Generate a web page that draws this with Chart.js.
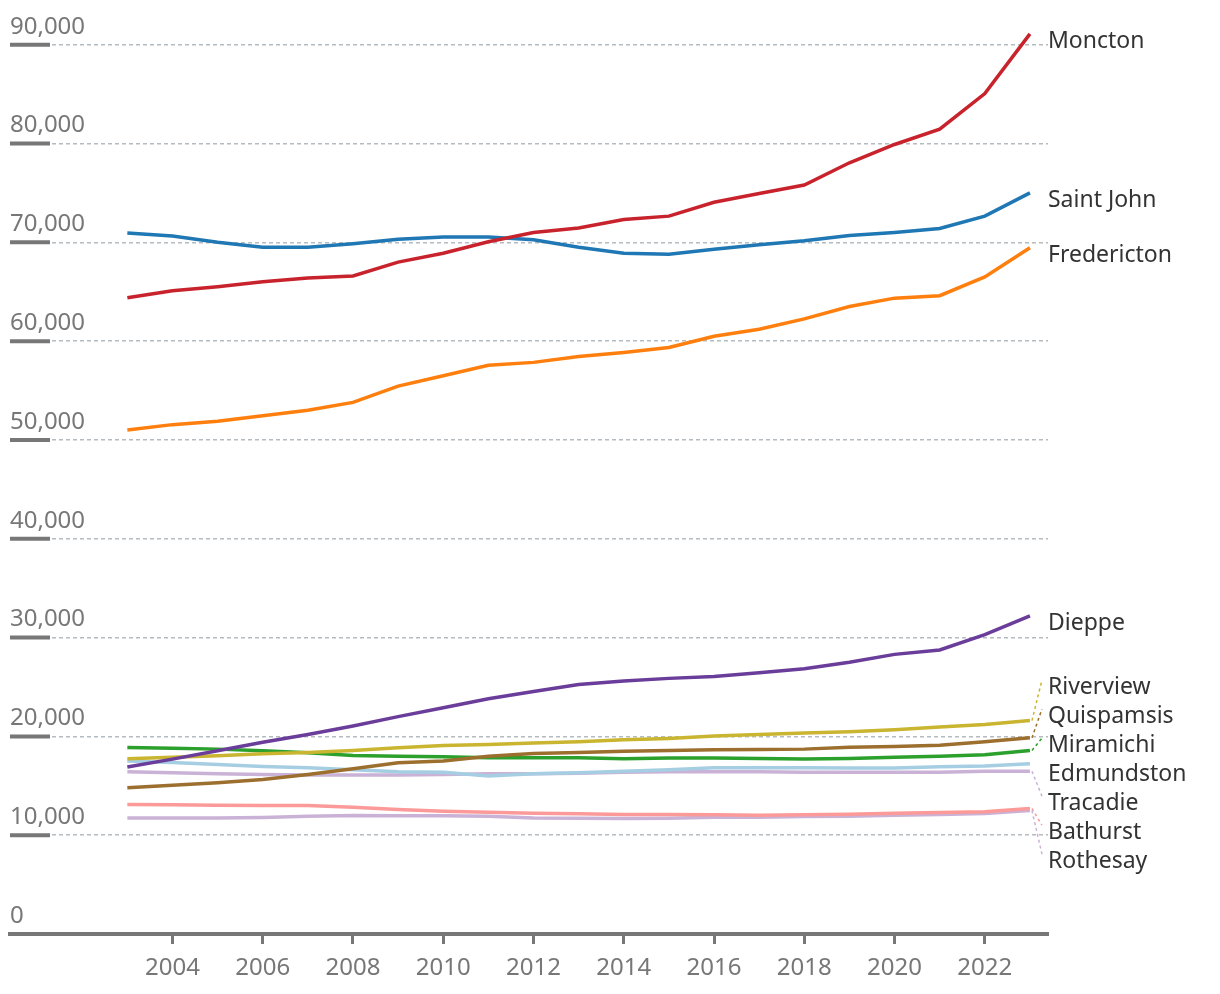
<!DOCTYPE html>
<html lang="en">
<head>
  <meta charset="UTF-8" />
  <title>New Brunswick population by city</title>
  <script src="https://cdn.jsdelivr.net/npm/chart.js"></script>
  <style>
    html, body { margin: 0; padding: 0; background: #fff; }
    #wrap { width: 1220px; height: 994px; }
  </style>
</head>
<body>
  <div id="wrap"><canvas id="chart" width="1220" height="994"></canvas></div>

  <script>
    // data
    const years = [2003, 2004, 2005, 2006, 2007, 2008, 2009, 2010, 2011, 2012, 2013,
      2014, 2015, 2016, 2017, 2018, 2019, 2020, 2021, 2022, 2023];

    const moncton = [64400, 65100, 65500, 66000, 66400, 66600, 68000, 68900, 70050, 71000, 71450,
      72300, 72650, 74050, 74950, 75800, 78050, 79900, 81450, 85050, 91100];
    const saintJohn = [70950, 70650, 70000, 69500, 69500, 69850, 70300, 70550, 70550, 70250, 69500,
      68900, 68800, 69300, 69750, 70150, 70700, 71000, 71400, 72650, 75000];
    const fredericton = [51000, 51550, 51900, 52450, 53000, 53800, 55450, 56500, 57550, 57850, 58450,
      58850, 59350, 60500, 61200, 62250, 63500, 64350, 64600, 66500, 69450];
    const dieppe = [16900, 17700, 18550, 19400, 20200, 21050, 22000, 22900, 23800, 24550, 25250,
      25600, 25870, 26050, 26450, 26850, 27500, 28300, 28750, 30300, 32200];
    const riverview = [17730, 17900, 18050, 18230, 18370, 18580, 18850, 19080, 19180, 19320, 19450,
      19650, 19790, 20030, 20200, 20330, 20460, 20670, 20940, 21210, 21600];
    const quispamsis = [14790, 15060, 15300, 15640, 16150, 16720, 17330, 17500, 18000, 18270, 18370,
      18500, 18580, 18640, 18680, 18710, 18910, 18980, 19110, 19450, 19850];
    const miramichi = [18880, 18810, 18710, 18540, 18340, 18070, 18000, 17930, 17830, 17830, 17830,
      17730, 17800, 17800, 17770, 17700, 17770, 17900, 18000, 18130, 18580];
    const edmundston = [17500, 17360, 17160, 16960, 16820, 16620, 16410, 16380, 15980, 16210, 16310,
      16480, 16620, 16820, 16820, 16820, 16800, 16800, 16920, 17000, 17220];
    const tracadie = [16410, 16310, 16210, 16150, 16080, 16080, 16080, 16150, 16210, 16210, 16280,
      16380, 16410, 16410, 16410, 16380, 16380, 16380, 16380, 16480, 16480];
    const bathurst = [13110, 13070, 13040, 13010, 13010, 12840, 12600, 12430, 12330, 12230, 12160,
      12100, 12100, 12060, 12030, 12060, 12130, 12230, 12300, 12360, 12700];
    const rothesay = [11750, 11750, 11750, 11790, 11920, 12000, 11960, 11960, 11920, 11750, 11720,
      11690, 11720, 11820, 11820, 11890, 11920, 12030, 12100, 12190, 12500];

    const cities = ['Moncton', 'Saint John', 'Fredericton', 'Dieppe', 'Riverview', 'Quispamsis',
      'Miramichi', 'Edmundston', 'Tracadie', 'Bathurst', 'Rothesay'];
    const series = [moncton, saintJohn, fredericton, dieppe, riverview, quispamsis,
      miramichi, edmundston, tracadie, bathurst, rothesay];
    const colors = ['#c8232c', '#1f77b4', '#ff7f0e', '#6a3d9a', '#c9b52f', '#9c6f2e',
      '#2ca02c', '#a6cee3', '#cab2d6', '#fb9a99', '#cab2d6'];

    const yTicks = [0, 10000, 20000, 30000, 40000, 50000, 60000, 70000, 80000, 90000];
    const xTicks = [2004, 2006, 2008, 2010, 2012, 2014, 2016, 2018, 2020, 2022];

    const AXIS_GREY = '#777777';
    const FONT = '"Noto Sans", "Open Sans", sans-serif';

    // thick grey marks on the left of each y gridline
    const yMarks = {
      id: 'yMarks',
      afterDraw(chart) {
        const { ctx, chartArea, scales } = chart;
        ctx.save();
        ctx.strokeStyle = AXIS_GREY;
        ctx.lineWidth = 4;
        yTicks.forEach(v => {
          if (v === 0) return;
          const y = scales.y.getPixelForValue(v);
          ctx.beginPath();
          ctx.moveTo(chartArea.left, y);
          ctx.lineTo(chartArea.left + 40, y);
          ctx.stroke();
        });
        ctx.restore();
      }
    };

    // city names at the line ends, pushed apart when they collide
    const endLabels = {
      id: 'endLabels',
      afterDatasetsDraw(chart) {
        const { ctx, scales } = chart;
        const gap = 29;
        const items = chart.data.datasets.map((ds, i) => {
          const last = ds.data[ds.data.length - 1];
          return {
            name: ds.label,
            color: ds.borderColor,
            x: scales.x.getPixelForValue(last.x),
            target: scales.y.getPixelForValue(last.y)
          };
        }).sort((a, b) => a.target - b.target);

        let groups = items.map(it => ({ members: [it], top: it.target }));
        let merged = true;
        while (merged) {
          merged = false;
          for (let i = 0; i < groups.length - 1; i++) {
            const a = groups[i], b = groups[i + 1];
            if (a.top + a.members.length * gap > b.top) {
              const members = a.members.concat(b.members);
              const mean = members.reduce((s, m) => s + m.target, 0) / members.length;
              groups.splice(i, 2, { members, top: mean - (members.length - 1) * gap / 2 });
              merged = true;
              break;
            }
          }
        }
        groups.forEach(g => g.members.forEach((m, k) => { m.y = g.top + k * gap; }));

        ctx.save();
        items.forEach(m => {
          if (Math.abs(m.y - m.target) > 3) {
            ctx.strokeStyle = m.color;
            ctx.lineWidth = 1.5;
            ctx.setLineDash([3, 3]);
            ctx.beginPath();
            ctx.moveTo(m.x + 2, m.target);
            ctx.lineTo(m.x + 12, m.y + 1);
            ctx.stroke();
          }
          ctx.setLineDash([]);
          ctx.fillStyle = '#333333';
          ctx.font = '23px ' + FONT;
          ctx.textAlign = 'left';
          ctx.textBaseline = 'middle';
          ctx.fillText(m.name, m.x + 18, m.y + 8);
        });
        ctx.restore();
      }
    };

    const datasets = cities.map((name, i) => ({
      label: name,
      data: years.map((yr, k) => ({ x: yr, y: series[i][k] })),
      borderColor: colors[i],
      backgroundColor: colors[i],
      borderWidth: 3.5,
      pointRadius: 0,
      tension: 0,
      fill: false
    }));

    new Chart(document.getElementById('chart'), {
      type: 'line',
      data: { datasets },
      options: {
        responsive: false,
        devicePixelRatio: 1,
        animation: false,
        layout: { padding: { left: 10, right: 172, top: 20, bottom: 2 } },
        plugins: {
          legend: { display: false },
          tooltip: { enabled: false }
        },
        scales: {
          x: {
            type: 'linear',
            min: 2000.4,
            max: 2023.4,
            afterBuildTicks: axis => { axis.ticks = xTicks.map(v => ({ value: v })); },
            ticks: {
              callback: v => String(v),
              color: AXIS_GREY,
              font: { family: FONT, size: 24, lineHeight: 1 },
              padding: 12,
              maxRotation: 0,
              autoSkip: false
            },
            grid: {
              drawOnChartArea: false,
              drawTicks: true,
              tickLength: 10,
              tickWidth: 3,
              tickColor: AXIS_GREY
            },
            border: { display: true, color: AXIS_GREY, width: 4 }
          },
          y: {
            min: 0,
            max: 92500,
            afterBuildTicks: axis => { axis.ticks = yTicks.map(v => ({ value: v })); },
            ticks: {
              mirror: true,
              padding: 0,
              labelOffset: -18,
              color: AXIS_GREY,
              font: { family: FONT, size: 24 },
              callback: v => v.toLocaleString('en-US')
            },
            grid: {
              color: '#b4bcc2',
              lineWidth: 1.5,
              drawTicks: false
            },
            border: { display: false, dash: [4, 3] }
          }
        }
      },
      plugins: [yMarks, endLabels]
    });
  </script>
</body>
</html>
